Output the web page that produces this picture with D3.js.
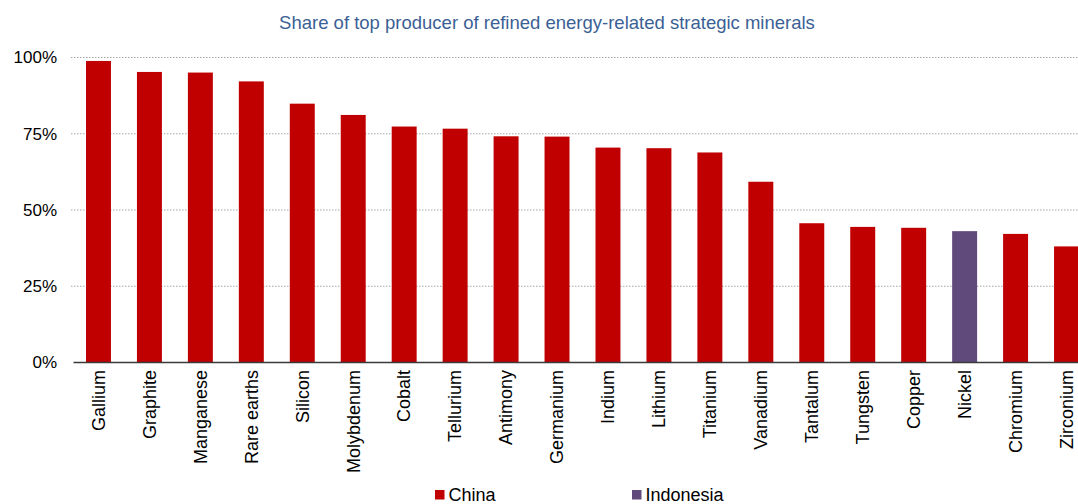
<!DOCTYPE html>
<html>
<head>
<meta charset="utf-8">
<script src="https://cdnjs.cloudflare.com/ajax/libs/d3/7.8.5/d3.min.js"></script>
<style>
  body { margin: 0; background: #fff; }
  svg { display: block; font-family: "Liberation Sans", Arial, sans-serif; }
</style>
</head>
<body>
<div id="chart"></div>
<script>
// chart data
var minerals = ["Gallium", "Graphite", "Manganese", "Rare earths", "Silicon", "Molybdenum", "Cobalt",
  "Tellurium", "Antimony", "Germanium", "Indium", "Lithium", "Titanium", "Vanadium", "Tantalum",
  "Tungsten", "Copper", "Nickel", "Chromium", "Zirconium"];
var shares = [98.7, 95.1, 94.9, 92.0, 84.7, 81.0, 77.2, 76.5, 74.0, 73.9, 70.3, 70.1, 68.7, 59.1,
  45.5, 44.3, 44.0, 42.9, 42.0, 37.9];
var producers = ["China", "China", "China", "China", "China", "China", "China", "China", "China",
  "China", "China", "China", "China", "China", "China", "China", "China", "Indonesia", "China", "China"];
var legendNames = ["China", "Indonesia"];
var yTicks = [0, 25, 50, 75, 100];

var svgWidth = 1078;
var svgHeight = 504;

var colors = { "China": "#c00000", "Indonesia": "#604a7b" };

var svg = d3.select("#chart")
  .append("svg")
  .attr("width", svgWidth)
  .attr("height", svgHeight);

var data = minerals.map(function(m, i) {
  return { name: m, value: shares[i], producer: producers[i] };
});

// scales
var x = d3.scaleBand()
  .domain(minerals)
  .range([73, 1092])
  .paddingInner(0.51)
  .paddingOuter(0.255);

var y = d3.scaleLinear()
  .domain([0, 100])
  .range([362, 57]);

// title
svg.append("text")
  .attr("x", 547)
  .attr("y", 29)
  .attr("text-anchor", "middle")
  .attr("fill", "#3b5f95")
  .style("font-size", "18.5px")
  .text("Share of top producer of refined energy-related strategic minerals");

// gridlines
svg.append("g")
  .selectAll("line")
  .data(yTicks.filter(d => d > 0))
  .enter()
  .append("line")
  .attr("x1", 71)
  .attr("x2", svgWidth)
  .attr("y1", d => y(d) + 0.5)
  .attr("y2", d => y(d) + 0.5)
  .attr("stroke", "#a6a6a6")
  .attr("stroke-width", 1)
  .attr("stroke-dasharray", "1.5,1.5");

// y axis labels
var leftAxis = d3.axisLeft(y)
  .tickValues(yTicks)
  .tickFormat(d => d + "%")
  .tickSize(0)
  .tickPadding(14);

var yAxis = svg.append("g")
  .attr("transform", "translate(71,0)")
  .call(leftAxis);
yAxis.select(".domain").remove();
yAxis.selectAll("text")
  .attr("fill", "#000")
  .style("font-size", "17px")
  .attr("dy", "0.35em");

// bars
svg.append("g")
  .selectAll("rect")
  .data(data)
  .enter()
  .append("rect")
  .attr("x", d => x(d.name))
  .attr("y", d => y(d.value))
  .attr("width", x.bandwidth())
  .attr("height", d => y(0) - y(d.value))
  .attr("fill", d => colors[d.producer]);

// x axis
var bottomAxis = d3.axisBottom(x)
  .tickSize(0)
  .tickPadding(10);

var xAxis = svg.append("g")
  .attr("transform", "translate(0,362)")
  .call(bottomAxis);
xAxis.select(".domain")
  .attr("stroke", "#3a3a3a")
  .attr("stroke-width", 1.3);
xAxis.selectAll("text")
  .attr("fill", "#000")
  .style("font-size", "18px")
  .attr("text-anchor", "end")
  .attr("transform", "rotate(-90)")
  .attr("x", -8)
  .attr("y", 0)
  .attr("dy", "0.35em");

// legend
var legendPos = [435, 632];
var legend = svg.append("g");
legendNames.forEach(function(name, i) {
  legend.append("rect")
    .attr("x", legendPos[i])
    .attr("y", 490)
    .attr("width", 9.5)
    .attr("height", 9.5)
    .attr("fill", colors[name]);
  legend.append("text")
    .attr("x", legendPos[i] + 13.5)
    .attr("y", 501)
    .attr("fill", "#000")
    .style("font-size", "18px")
    .text(name);
});
</script>
</body>
</html>
